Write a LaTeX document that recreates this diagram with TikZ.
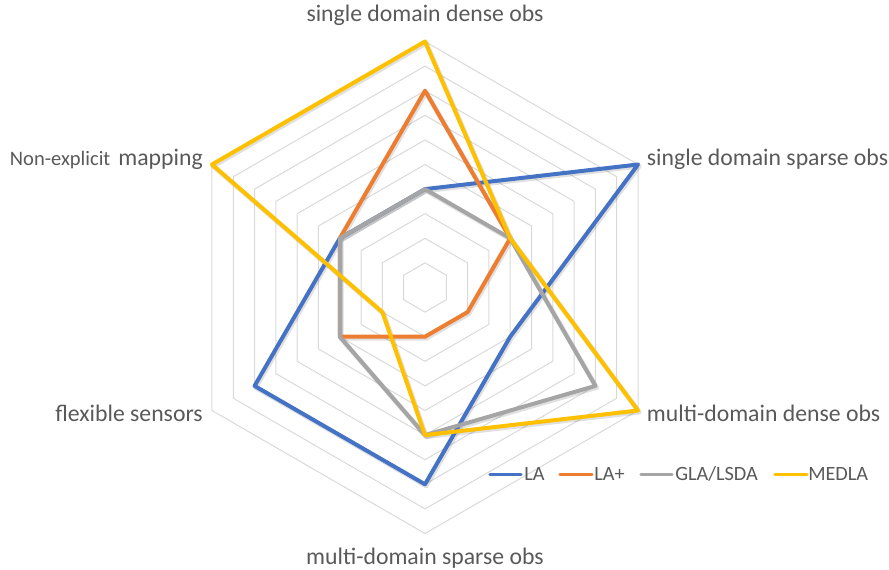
\documentclass[tikz,border=0pt]{standalone}
\usepackage{fontspec}
\setmainfont{Carlito}
\usepackage{tikz}

\definecolor{laBlue}{HTML}{4472C4}
\definecolor{laPlusOrange}{HTML}{ED7D31}
\definecolor{glaGray}{HTML}{A5A5A5}
\definecolor{medlaGold}{HTML}{FFC000}
\definecolor{gridGray}{HTML}{D9D9D9}
\definecolor{labelGray}{HTML}{595959}

\def\rstep{24.6}

\begin{document}
\begin{tikzpicture}[x=0.75pt, y=0.75pt,
		gridline/.style={draw=gridGray, line width=0.75pt},
		series/.style={line width=3pt, line join=round},
		shade/.style={draw=black, opacity=0.12, line width=3.6pt, line join=round},
		axislabel/.style={text=labelGray, inner sep=0pt, font=\fontsize{17.8}{20}\selectfont},
		legendline/.style={line width=2.4pt, line cap=round},
		legendtext/.style={text=labelGray, inner sep=0pt, anchor=base west, font=\fontsize{15.2}{18}\selectfont}
	]
	\useasboundingbox (-425,-281.5) rectangle (464,287.5);

	% grid rings
	\foreach \k in {1,...,10}
	\draw[gridline] (90:\k*\rstep) -- (30:\k*\rstep) -- (-30:\k*\rstep) -- (-90:\k*\rstep) -- (-150:\k*\rstep) -- (150:\k*\rstep) -- cycle;

	% axis labels
	\node[axislabel, anchor=base] (sdd) at (0,265.8) {single domain dense obs};
	\node[axislabel, anchor=base west] (sds) at (221.7,122.5) {single domain sparse obs};
	\node[axislabel, anchor=base west] (mdd) at (221.7,-134.2) {multi-domain dense obs};
	\node[axislabel, anchor=base] (mds) at (0,-276.5) {multi-domain sparse obs};
	\node[axislabel, anchor=base east] (flex) at (-222,-134.2) {flexible sensors};
	\node[axislabel, anchor=base east] (nem) at (-222,121.8) {{\fontsize{15.4}{18}\selectfont Non-explicit}\hspace{6pt}mapping};

	% soft shadows under the series
	\begin{scope}[shift={(1.2,-1.6)}]
		\draw[shade] (90:4*\rstep) -- (30:10*\rstep) -- (-30:4*\rstep) -- (-90:8*\rstep) -- (-150:8*\rstep) -- (150:4*\rstep) -- cycle;
		\draw[shade] (90:8*\rstep) -- (30:4*\rstep) -- (-30:2*\rstep) -- (-90:2*\rstep) -- (-150:4*\rstep) -- (150:4*\rstep) -- cycle;
		\draw[shade] (90:4*\rstep) -- (30:4*\rstep) -- (-30:8*\rstep) -- (-90:6*\rstep) -- (-150:4*\rstep) -- (150:4*\rstep) -- cycle;
		\draw[shade] (90:10*\rstep) -- (30:4*\rstep) -- (-30:10*\rstep) -- (-90:6*\rstep) -- (-150:2*\rstep) -- (150:10*\rstep) -- cycle;
	\end{scope}

	% LA
	\draw[series, laBlue] (90:4*\rstep) -- (30:10*\rstep) -- (-30:4*\rstep) -- (-90:8*\rstep) -- (-150:8*\rstep) -- (150:4*\rstep) -- cycle;
	% LA+
	\draw[series, laPlusOrange] (90:8*\rstep) -- (30:4*\rstep) -- (-30:2*\rstep) -- (-90:2*\rstep) -- (-150:4*\rstep) -- (150:4*\rstep) -- cycle;
	% GLA/LSDA
	\draw[series, glaGray] (90:4*\rstep) -- (30:4*\rstep) -- (-30:8*\rstep) -- (-90:6*\rstep) -- (-150:4*\rstep) -- (150:4*\rstep) -- cycle;
	% MEDLA
	\draw[series, medlaGold] (90:10*\rstep) -- (30:4*\rstep) -- (-30:10*\rstep) -- (-90:6*\rstep) -- (-150:2*\rstep) -- (150:10*\rstep) -- cycle;

	% legend
	\coordinate (la1) at (65,-186.8);   \coordinate (la2) at (96,-186.8);
	\coordinate (lap1) at (135,-186.8); \coordinate (lap2) at (167,-186.8);
	\coordinate (gla1) at (216,-186.8); \coordinate (gla2) at (247,-186.8);
	\coordinate (med1) at (350,-186.8); \coordinate (med2) at (382,-186.8);
	\draw[legendline, laBlue] (la1) -- (la2);
	\draw[legendline, laPlusOrange] (lap1) -- (lap2);
	\draw[legendline, glaGray] (gla1) -- (gla2);
	\draw[legendline, medlaGold] (med1) -- (med2);
	\node[legendtext] (laText) at (99,-192.5) {LA};
	\node[legendtext] (lapText) at (169,-192.5) {LA+};
	\node[legendtext] (glaText) at (250,-192.5) {GLA/LSDA};
	\node[legendtext] (medText) at (383,-192.5) {MEDLA};
\end{tikzpicture}
\end{document}
